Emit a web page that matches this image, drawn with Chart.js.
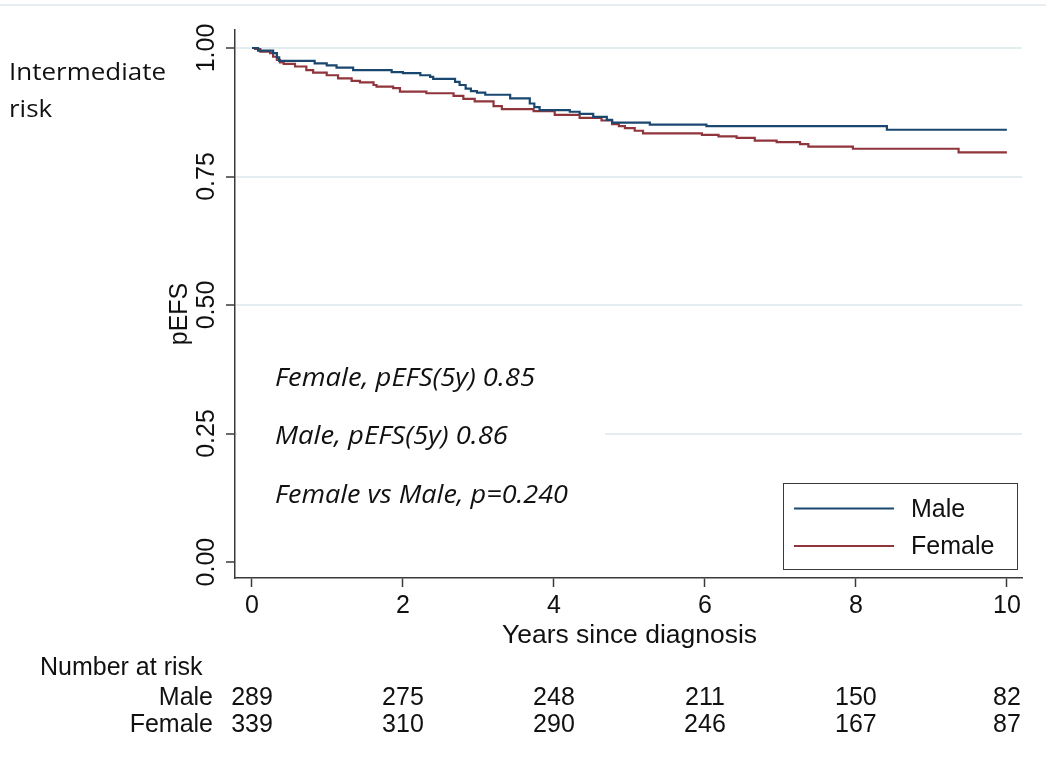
<!DOCTYPE html>
<html>
<head>
<meta charset="utf-8">
<script src="https://cdn.jsdelivr.net/npm/chart.js@4/dist/chart.umd.min.js"></script>
<style>
	html, body { margin: 0; padding: 0; background: #fff; }
	#wrap { width: 1046px; height: 772px; position: relative; }
</style>
</head>
<body>
<div id="wrap"><canvas id="kmChart"></canvas></div>
<script>
// Kaplan-Meier steps (time in years, survival after the step)
const maleTimes = [0, 0.08, 0.28, 0.33, 0.36, 0.83, 0.99, 1.12, 1.34, 1.85, 2.0, 2.23, 2.36, 2.4, 2.69, 2.75, 2.83, 2.9, 2.98, 3.09, 3.42, 3.68, 3.74, 3.81, 4.21, 4.34, 4.52, 4.7, 4.77, 5.27, 6.02, 8.41, 10];
const maleSurv = [1.0, 0.995, 0.99, 0.982, 0.975, 0.97, 0.966, 0.962, 0.957, 0.953, 0.951, 0.947, 0.944, 0.94, 0.934, 0.928, 0.921, 0.916, 0.913, 0.909, 0.902, 0.892, 0.885, 0.879, 0.876, 0.872, 0.866, 0.86, 0.855, 0.851, 0.848, 0.841, 0.841];

const femaleTimes = [0, 0.04, 0.11, 0.24, 0.28, 0.33, 0.37, 0.42, 0.57, 0.72, 0.81, 0.99, 1.14, 1.32, 1.43, 1.61, 1.65, 1.87, 1.96, 2.31, 2.67, 2.8, 2.95, 3.2, 3.31, 3.73, 4.01, 4.34, 4.63, 4.77, 4.86, 4.94, 5.07, 5.18, 5.96, 6.18, 6.42, 6.66, 6.95, 7.26, 7.37, 7.96, 9.36, 10];
const femaleSurv = [1.0, 0.998, 0.993, 0.99, 0.983, 0.977, 0.972, 0.969, 0.964, 0.957, 0.952, 0.947, 0.941, 0.936, 0.933, 0.928, 0.925, 0.922, 0.915, 0.912, 0.907, 0.901, 0.896, 0.887, 0.881, 0.877, 0.87, 0.864, 0.859, 0.852, 0.848, 0.844, 0.839, 0.834, 0.831, 0.828, 0.825, 0.82, 0.817, 0.813, 0.808, 0.804, 0.797, 0.797];

const xTicks = [0, 2, 4, 6, 8, 10];
const yTicks = [0, 0.25, 0.5, 0.75, 1];

const riskTimes = [0, 2, 4, 6, 8, 10];
const maleAtRisk = [289, 275, 248, 211, 150, 82];
const femaleAtRisk = [339, 310, 290, 246, 167, 87];

const groupLabels = ["Male", "Female"];
const notes = ["Female, pEFS(5y) 0.85", "Male, pEFS(5y) 0.86", "Female vs Male, p=0.240"];
const panelTitle = ["Intermediate", "risk"];

const blue = "#1a476f";
const maroon = "#90353b";
const gridColor = "#e4edf0";
const axisColor = "#3a3a3a";
const stataFont = "'Liberation Sans', Arial, sans-serif";
const noteFont = "'Open Sans', sans-serif";

function toPoints(times, surv) {
	return times.map((t, i) => ({ x: t, y: surv[i] }));
}

// draws text squeezed/stretched to a given width
function fitText(ctx, text, x, y, width) {
	const w = ctx.measureText(text).width;
	ctx.save();
	ctx.translate(x, y);
	ctx.scale(width / w, 1);
	ctx.fillText(text, 0, 0);
	ctx.restore();
}

const noteBox = {
	id: "noteBox",
	beforeDatasetsDraw(chart) {
		const ctx = chart.ctx;
		ctx.save();
		ctx.fillStyle = "#fff";
		ctx.fillRect(237, 352, 605 - 237, 208);
		ctx.restore();
	},
};

const kmText = {
	id: "kmText",
	afterDraw(chart) {
		const ctx = chart.ctx;
		const xs = chart.scales.x;
		const ys = chart.scales.y;
		ctx.save();

		// faint rule at the very top
		ctx.fillStyle = "#e6eef2";
		ctx.fillRect(0, 4, chart.width, 2);

		ctx.fillStyle = "#111";
		ctx.font = "25px " + stataFont;

		// y tick labels, rotated
		ctx.textAlign = "center";
		ctx.textBaseline = "alphabetic";
		yTicks.forEach((v) => {
			ctx.save();
			ctx.translate(214, ys.getPixelForValue(v));
			ctx.rotate(-Math.PI / 2);
			ctx.fillText(v.toFixed(2), 0, 0);
			ctx.restore();
		});

		// y title
		ctx.save();
		ctx.translate(187, 314);
		ctx.rotate(-Math.PI / 2);
		ctx.fillText("pEFS", 0, 0);
		ctx.restore();

		// x title
		ctx.textAlign = "left";
		fitText(ctx, "Years since diagnosis", 502, 643, 255);

		// number at risk table
		ctx.fillText("Number at risk", 40, 675);
		ctx.textAlign = "right";
		ctx.fillText(groupLabels[0], 213, 705);
		ctx.fillText(groupLabels[1], 213, 732);
		ctx.textAlign = "center";
		riskTimes.forEach((t, i) => {
			const px = xs.getPixelForValue(t);
			ctx.fillText(String(maleAtRisk[i]), px, 705);
			ctx.fillText(String(femaleAtRisk[i]), px, 732);
		});

		// legend box
		ctx.fillStyle = "#fff";
		ctx.fillRect(783, 483, 234, 87);
		ctx.strokeStyle = axisColor;
		ctx.lineWidth = 1;
		ctx.strokeRect(783.5, 483.5, 234, 86);
		chart.data.datasets.forEach((ds, i) => {
			const ly = i === 0 ? 508.5 : 546;
			ctx.strokeStyle = ds.borderColor;
			ctx.lineWidth = 2;
			ctx.beginPath();
			ctx.moveTo(794, ly);
			ctx.lineTo(894, ly);
			ctx.stroke();
			ctx.fillStyle = "#111";
			ctx.textAlign = "left";
			ctx.fillText(ds.label, 911, i === 0 ? 517 : 554);
		});

		// italic notes
		ctx.fillStyle = "#111";
		ctx.textAlign = "left";
		ctx.font = "italic 25px " + noteFont;
		fitText(ctx, notes[0], 275, 386, 260);
		fitText(ctx, notes[1], 275, 444, 233);
		fitText(ctx, notes[2], 275, 503, 293);

		// panel title
		ctx.font = "24px " + noteFont;
		const k = 157 / ctx.measureText(panelTitle[0]).width;
		[80, 117].forEach((by, i) => {
			ctx.save();
			ctx.translate(9, by);
			ctx.scale(k, 1);
			ctx.fillText(panelTitle[i], 0, 0);
			ctx.restore();
		});

		ctx.restore();
	},
};

new Chart(document.getElementById("kmChart"), {
	type: "line",
	data: {
		datasets: [
			{
				label: groupLabels[0],
				data: toPoints(maleTimes, maleSurv),
				borderColor: blue,
				borderWidth: 2.2,
				stepped: true,
				pointRadius: 0,
				fill: false,
			},
			{
				label: groupLabels[1],
				data: toPoints(femaleTimes, femaleSurv),
				borderColor: maroon,
				borderWidth: 2.2,
				stepped: true,
				pointRadius: 0,
				fill: false,
			},
		],
	},
	options: {
		responsive: true,
		maintainAspectRatio: false,
		animation: false,
		layout: { padding: { left: 0, top: 30, right: 24, bottom: 0 } },
		plugins: {
			legend: { display: false },
			tooltip: { enabled: false },
		},
		scales: {
			x: {
				type: "linear",
				min: -0.225,
				max: 10.2,
				afterBuildTicks: (scale) => {
					scale.ticks = xTicks.map((v) => ({ value: v }));
				},
				afterFit: (scale) => {
					scale.height = 194;
				},
				grid: {
					drawOnChartArea: false,
					drawTicks: true,
					tickLength: 9,
					tickColor: axisColor,
					tickWidth: 1.5,
				},
				border: { display: true, color: axisColor, width: 1.5 },
				ticks: {
					autoSkip: false,
					maxRotation: 0,
					padding: 4,
					color: "#111",
					font: { family: stataFont, size: 25 },
				},
			},
			y: {
				type: "linear",
				min: -0.031,
				max: 1.035,
				afterBuildTicks: (scale) => {
					scale.ticks = yTicks.map((v) => ({ value: v }));
				},
				afterFit: (scale) => {
					scale.width = 235;
				},
				grid: {
					color: (c) => (c.tick && c.tick.value === 0 ? "rgba(0,0,0,0)" : gridColor),
					lineWidth: 2,
					drawTicks: true,
					tickLength: 9,
					tickColor: axisColor,
					tickWidth: 1.5,
				},
				border: { display: true, color: axisColor, width: 1.5 },
				ticks: { display: false },
			},
		},
	},
	plugins: [noteBox, kmText],
});
</script>
</body>
</html>
